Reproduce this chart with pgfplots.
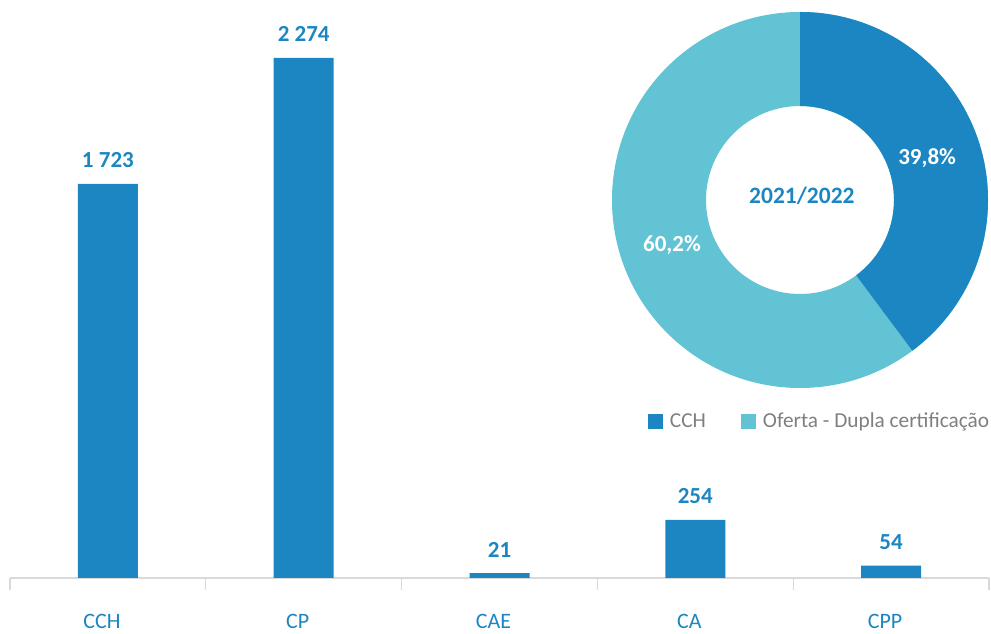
\documentclass[border=0pt]{standalone}
\usepackage{fontspec}
\setmainfont{Carlito}
\usepackage{pgfplots}
\usepackage{pgfplotstable}
\pgfplotsset{compat=1.18}
\definecolor{cdark}{HTML}{1C86C2}
\definecolor{clight}{HTML}{62C3D4}
\definecolor{cgrey}{HTML}{7F7F7F}
\definecolor{caxis}{HTML}{D9D9D9}
\pgfplotstableread[col sep=comma]{
x,val,lab
0,1723,1 723
1,2274,2 274
2,21,21
3,254,254
4,54,54
}\bardata
\pgfplotstableread[col sep=comma]{
name,pct,lab
CCH,39.8,{39,8\%}
Oferta,60.2,{60,2\%}
}\piedata
\pgfplotstablegetelem{0}{pct}\of\piedata
\pgfmathsetmacro{\pctA}{\pgfplotsretval}
\pgfmathsetmacro{\endA}{90-3.6*\pctA}
\begin{document}
\begin{tikzpicture}
\useasboundingbox (0,0) rectangle (991pt,634pt);
\begin{axis}[
  at={(10pt,56pt)}, anchor=south west,
  scale only axis, width=979pt, height=571.75pt,
  xmin=-0.5, xmax=4.5, ymin=0, ymax=2500,
  clip=false,
  hide y axis,
  axis x line*=bottom,
  x axis line style={draw=caxis, line width=1.3pt, -},
  xtick={0,1,2,3,4},
  xticklabels={CCH,CP,CAE,CA,CPP},
  major tick length=0pt,
  minor xtick={-0.5,0.5,1.5,2.5,3.5,4.5},
  minor tick length=12pt,
  xtick align=outside,
  minor tick style={draw=caxis, line width=1.3pt},
  xticklabel style={anchor=base, inner sep=0pt, yshift=-51pt, xshift=-6pt, text=cdark, font=\fontsize{22}{26}\selectfont},
]
\addplot[ybar, bar width=60pt, fill=cdark, draw=none,
  nodes near coords, point meta=explicit symbolic,
  nodes near coords style={anchor=base, yshift=16pt, text=cdark, font=\fontsize{23}{27}\selectfont\bfseries}]
  table[x=x, y=val, meta=lab]{\bardata};
\end{axis}
\begin{axis}[
  at={(612pt,246pt)}, anchor=south west,
  scale only axis, width=376pt, height=376pt,
  xmin=-1, xmax=1, ymin=-1, ymax=1,
  hide axis, clip=false,
  legend style={at={(0.0957,-0.0878)}, anchor=west, draw=none, fill=none,
    inner sep=0pt, outer sep=0pt,
    nodes={inner sep=0pt, text=cgrey, font=\fontsize{21.3}{25}\selectfont},
    /tikz/every odd column/.style={column sep=7pt},
    /tikz/every even column/.style={column sep=35pt}},
  legend columns=2,
  legend image code/.code={\fill[#1] (0pt,-7.5pt) rectangle (15pt,7.5pt);},
]
\path (axis cs:0,0) coordinate (C);
\fill[clight] ([shift={(90:188pt)}]C) arc[start angle=90, end angle=\endA-360, radius=188pt]
  -- ([shift={(\endA:94pt)}]C) arc[start angle=\endA-360, end angle=90, radius=94pt] -- cycle;
\fill[cdark] ([shift={(90:188pt)}]C) arc[start angle=90, end angle=\endA, radius=188pt]
  -- ([shift={(\endA:94pt)}]C) arc[start angle=\endA, end angle=90, radius=94pt] -- cycle;
\node[text=white, font=\fontsize{23}{27}\selectfont\bfseries] at (axis cs:0.676,0.223) {39,8\%};
\node[text=white, font=\fontsize{23}{27}\selectfont\bfseries] at (axis cs:-0.681,-0.239) {60,2\%};
\node[text=cdark, font=\fontsize{23.5}{27}\selectfont\bfseries] at (axis cs:0.01,0.02) {2021/2022};
\addlegendimage{fill=cdark, draw=none}
\addlegendentry{CCH}
\addlegendimage{fill=clight, draw=none}
\addlegendentry{Oferta - Dupla certificação}
\end{axis}
\end{tikzpicture}
\end{document}
